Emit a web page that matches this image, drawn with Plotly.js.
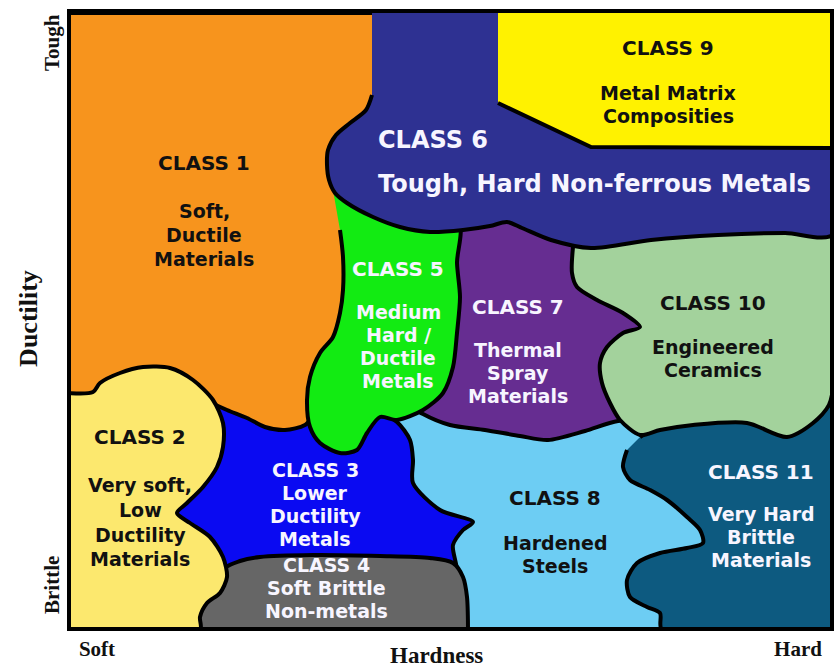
<!DOCTYPE html>
<html>
<head>
<meta charset="utf-8">
<script src="https://cdn.plot.ly/plotly-3.0.1.min.js"></script>
<style>
  html, body { margin: 0; padding: 0; background: #fff; }
  #chart { width: 838px; height: 671px; }
</style>
</head>
<body>
<div id="chart"></div>
<script>
// outline points of each class region (hardness across, ductility down)
var class1X = [71, 380, 380, 350, 300, 200, 71];
var class1Y = [13, 13, 200, 400, 440, 440, 440];

var class8X = [370, 720, 720, 370];
var class8Y = [405, 405, 630, 630];

var class11X = [640, 660, 700, 760, 790, 815, 834, 834, 662, 660, 647, 630, 627, 637, 660, 687, 703, 700, 687, 667, 650, 630, 623, 627];
var class11Y = [437, 426, 418, 415, 425, 410, 395, 630, 630, 613, 607, 597, 580, 563, 553, 548, 543, 530, 517, 500, 490, 480, 467, 450];

var class7X = [420, 660, 660, 618, 585, 548, 520, 485, 450, 423, 410, 420];
var class7Y = [210, 210, 421, 421, 431, 440, 436, 430, 425, 414, 405, 300];

var class10X = [573, 834, 834, 829, 813, 787, 747, 693, 660, 640, 620, 610, 602, 600, 607, 623, 640, 623, 597, 577, 572, 573];
var class10Y = [225, 220, 380, 405, 423, 437, 423, 425, 430, 435, 420, 403, 383, 363, 347, 333, 327, 313, 300, 287, 273, 247];

var class3X = [205, 227, 247, 265, 285, 305, 320, 375, 397, 410, 413, 413, 440, 473, 463, 453, 455, 205, 170];
var class3Y = [400, 410, 418, 427, 430, 425, 410, 410, 422, 440, 460, 483, 510, 522, 530, 545, 578, 578, 513];

var class5X = [333, 458, 457, 460, 457, 453, 443, 423, 397, 380, 367, 357, 340, 320, 310, 307, 310, 320, 333, 340, 343, 343, 340];
var class5Y = [190, 220, 263, 297, 333, 367, 393, 410, 420, 417, 433, 450, 453, 443, 427, 400, 377, 353, 337, 313, 290, 257, 230];

var class6X = [372, 834, 834, 785, 718, 651, 591, 551, 522, 507, 490, 463, 430, 400, 373, 347, 335, 329, 327, 328, 336, 350, 366, 372];
var class6Y = [10, 10, 234, 233, 235, 240, 248, 240, 228, 222, 226, 230, 232, 227, 217, 203, 193, 180, 165, 150, 135, 123, 110, 95];

var class9X = [498, 834, 834, 591, 498];
var class9Y = [10, 10, 148, 147, 103];

var class4X = [190, 225, 240, 260, 313, 380, 430, 453, 463, 467, 468];
var class4Y = [630, 568, 561, 557, 555, 556, 558, 563, 577, 597, 630];

var class2X = [68, 93, 100, 120, 143, 170, 193, 213, 223, 223, 217, 203, 187, 177, 190, 210, 223, 227, 220, 207, 200, 200, 68];
var class2Y = [393, 392, 383, 373, 367, 368, 380, 400, 423, 447, 467, 487, 503, 513, 523, 537, 557, 577, 593, 603, 617, 630, 630];

// labels
var labelText = [
  'CLASS 1', 'Soft,', 'Ductile', 'Materials',
  'CLASS 2', 'Very soft,', 'Low', 'Ductility', 'Materials',
  'CLASS 3', 'Lower', 'Ductility', 'Metals',
  'CLASS 4', 'Soft Brittle', 'Non-metals',
  'CLASS 5', 'Medium', 'Hard /', 'Ductile', 'Metals',
  'CLASS 6', 'Tough, Hard Non-ferrous Metals',
  'CLASS 7', 'Thermal', 'Spray', 'Materials',
  'CLASS 8', 'Hardened', 'Steels',
  'CLASS 9', 'Metal Matrix', 'Composities',
  'CLASS 10', 'Engineered', 'Ceramics',
  'CLASS 11', 'Very Hard', 'Brittle', 'Materials'
];
var labelX = [
  204, 204, 204, 204,
  140, 140, 140, 140, 140,
  315, 315, 315, 315,
  326, 326, 326,
  398, 398, 398, 398, 398,
  433, 594,
  518, 518, 518, 518,
  555, 555, 555,
  668, 668, 668,
  713, 713, 713,
  761, 761, 761, 761
];
var labelY = [
  163, 211, 235, 259,
  437, 485, 510, 535, 559,
  470, 493, 516, 539,
  565, 588, 611,
  269, 312, 335, 358, 381,
  140, 184,
  307, 350, 373, 396,
  498, 543, 566,
  48, 93, 116,
  303, 347, 370,
  472, 514, 537, 560
];
var labelSize = [
  20, 19, 19, 19,
  20, 19, 19, 19, 19,
  19, 19, 19, 19,
  19, 19, 19,
  20, 19, 19, 19, 19,
  24, 24,
  20, 19, 19, 19,
  20, 19, 19,
  20, 19, 19,
  20, 19, 19,
  20, 19, 19, 19
];
var labelDark = [
  1, 1, 1, 1,
  1, 1, 1, 1, 1,
  0, 0, 0, 0,
  0, 0, 0,
  0, 0, 0, 0, 0,
  0, 0,
  0, 0, 0, 0,
  1, 1, 1,
  1, 1, 1,
  1, 1, 1,
  0, 0, 0, 0
];

var hardnessTicks = ['Soft', 'Hard'];
var hardnessTickPos = [97, 798];
var ductilityTicks = ['Tough', 'Brittle'];
var ductilityTickPos = [46, 588];

var regions = [
  { x: class1X, y: class1Y, color: '#F7941D', shape: 'linear' },
  { x: class8X, y: class8Y, color: '#6DCDF3', shape: 'linear' },
  { x: class11X, y: class11Y, color: '#0D5A80', shape: 'spline' },
  { x: class7X, y: class7Y, color: '#662D91', shape: 'spline' },
  { x: class10X, y: class10Y, color: '#A3D29C', shape: 'spline' },
  { x: class3X, y: class3Y, color: '#0A0AF2', shape: 'spline' },
  { x: class5X, y: class5Y, color: '#12EB12', shape: 'spline' },
  { x: class6X, y: class6Y, color: '#2E3192', shape: 'spline' },
  { x: class9X, y: class9Y, color: '#FFF200', shape: 'linear' },
  { x: class4X, y: class4Y, color: '#666666', shape: 'spline' },
  { x: class2X, y: class2Y, color: '#FCE86E', shape: 'spline' }
];

var traces = regions.map(function (r) {
  return {
    type: 'scatter',
    mode: 'lines',
    x: r.x,
    y: r.y,
    fill: 'toself',
    fillcolor: r.color,
    line: { color: '#000', width: 4, shape: r.shape, smoothing: 0.8 },
    hoverinfo: 'skip',
    showlegend: false
  };
});

var annotations = labelText.map(function (t, i) {
  return {
    x: labelX[i], y: labelY[i], xref: 'x', yref: 'y',
    text: t, showarrow: false, xanchor: 'center', yanchor: 'middle',
    font: {
      family: 'DejaVu Sans', weight: 'bold',
      size: labelSize[i],
      color: labelDark[i] ? '#111111' : '#F7F5FF'
    }
  };
});

// axis names sit outside the plot, so place them on the paper
annotations.push({
  x: 0.482, y: -0.047, xref: 'paper', yref: 'paper', text: 'Hardness', showarrow: false,
  xanchor: 'center', yanchor: 'middle',
  font: { family: 'Liberation Serif', weight: 'bold', size: 23, color: '#111' }
});
annotations.push({
  x: -0.057, y: 0.503, xref: 'paper', yref: 'paper', text: 'Ductility', showarrow: false,
  textangle: -90, xanchor: 'center', yanchor: 'middle',
  font: { family: 'Liberation Serif', weight: 'bold', size: 26, color: '#111' }
});

var axisFont = { family: 'Liberation Serif', weight: 'bold', size: 21, color: '#111' };

var layout = {
  width: 838,
  height: 671,
  margin: { l: 71, r: 8, t: 13, b: 44 },
  paper_bgcolor: '#fff',
  plot_bgcolor: '#fff',
  xaxis: {
    range: [71, 830], showgrid: false, zeroline: false,
    showline: true, mirror: true, linewidth: 4, linecolor: '#000',
    tickvals: hardnessTickPos, ticktext: hardnessTicks, ticks: '',
    tickfont: axisFont, fixedrange: true
  },
  yaxis: {
    range: [627, 13], showgrid: false, zeroline: false,
    showline: true, mirror: true, linewidth: 4, linecolor: '#000',
    tickvals: ductilityTickPos, ticktext: ductilityTicks, ticks: '',
    tickangle: -90, tickfont: axisFont, fixedrange: true
  },
  annotations: annotations
};

Plotly.newPlot('chart', traces, layout, { staticPlot: true, displayModeBar: false });
</script>
</body>
</html>
